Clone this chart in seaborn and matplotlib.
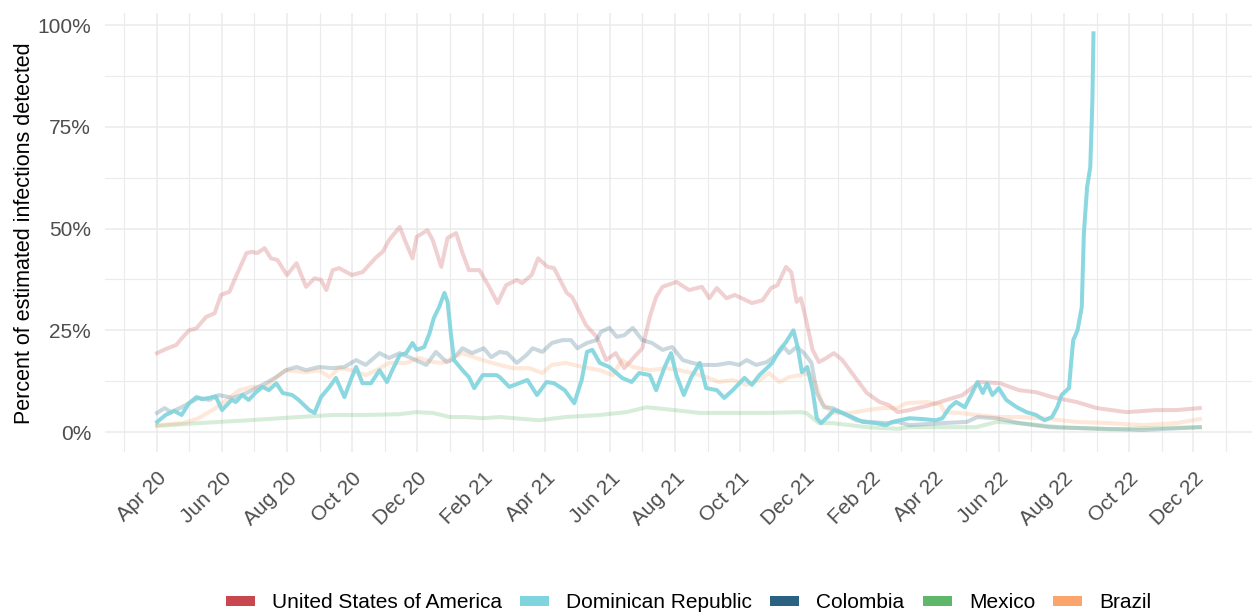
import pandas as pd
import seaborn as sns
import matplotlib.pyplot as plt
import matplotlib.dates as mdates
from matplotlib.ticker import PercentFormatter, MultipleLocator
from matplotlib.patches import Patch

# dias contados a partir de 1 abr 2020, valores em %
usa_dias = [0, 8, 18, 23, 30, 37, 46, 54, 60, 68, 74, 84, 89, 94, 101, 107, 113, 122, 131,
            140, 148, 154, 159, 165, 171, 183, 193, 206, 212, 218, 228, 234, 240, 244, 254,
            259, 267, 273, 281, 287, 293, 303, 312, 320, 328, 338, 343, 352, 358, 367, 373,
            385, 390, 403, 413, 422, 431, 439, 450, 456, 463, 469, 475, 488, 500, 512, 519,
            526, 535, 543, 559, 569, 577, 583, 591, 596, 601, 605, 610, 616, 622, 629, 636,
            644, 653, 667, 679, 688, 696, 707, 726, 742, 757, 773, 792, 810, 826, 841, 864,
            883, 911, 939, 958, 980]
usa_pct = [19.4, 20.4, 21.4, 23.0, 25.0, 25.5, 28.3, 29.2, 33.7, 34.5, 38.2, 44.0, 44.3, 44.0,
           45.2, 42.7, 42.3, 38.6, 41.5, 35.7, 37.8, 37.4, 34.9, 39.8, 40.3, 38.6, 39.3, 43.0,
           44.3, 47.2, 50.4, 46.4, 42.7, 48.0, 49.6, 47.2, 40.6, 47.7, 48.9, 44.0, 39.8, 39.8,
           35.7, 31.7, 36.1, 37.4, 36.6, 38.6, 42.7, 40.6, 40.3, 34.2, 33.2, 26.3, 23.4, 17.7,
           19.4, 15.7, 18.9, 20.6, 28.3, 33.2, 35.7, 36.9, 34.9, 35.7, 32.9, 35.4, 32.9, 33.7,
           31.7, 32.4, 35.4, 36.1, 40.6, 39.3, 32.0, 32.9, 27.5, 20.2, 17.2, 18.2, 19.4, 17.7,
           14.5, 9.6, 7.4, 6.6, 4.9, 5.4, 6.6, 7.9, 9.1, 12.3, 12.0, 10.3, 9.8, 8.6, 7.4, 5.9,
           4.9, 5.4, 5.4, 5.9]

dom_dias = [0, 8, 16, 23, 30, 37, 42, 49, 55, 61, 70, 74, 80, 86, 93, 99, 105, 112, 118, 127,
            133, 143, 148, 154, 162, 168, 176, 183, 187, 193, 201, 209, 216, 221, 228, 234, 240,
            244, 251, 256, 260, 265, 270, 273, 276, 279, 287, 293, 298, 306, 319, 322, 331, 340,
            348, 357, 366, 373, 383, 392, 399, 404, 409, 416, 425, 437, 446, 453, 463, 469, 477,
            483, 488, 495, 502, 510, 516, 526, 533, 541, 552, 559, 566, 573, 578, 585, 591, 598,
            602, 606, 611, 616, 620, 624, 630, 636, 644, 653, 663, 676, 685, 691, 707, 719, 732,
            738, 745, 751, 759, 765, 771, 776, 780, 785, 791, 798, 808, 817, 826, 834, 841, 846,
            850, 857, 859, 861, 865, 869, 871, 874, 877, 879, 880]
dom_pct = [2.5, 4.2, 5.2, 4.2, 7.1, 8.6, 8.1, 8.4, 8.8, 5.4, 7.9, 7.4, 9.1, 7.9, 9.8, 11.1, 10.3,
           12.0, 9.6, 9.1, 7.9, 5.4, 4.7, 8.6, 11.1, 13.3, 8.6, 13.5, 16.0, 12.0, 12.0, 15.2, 12.3,
           15.2, 18.9, 19.4, 21.9, 20.2, 20.9, 24.3, 28.0, 30.7, 34.2, 32.0, 24.3, 17.7, 15.2,
           13.5, 10.8, 14.0, 14.0, 13.5, 11.1, 12.0, 12.8, 9.1, 12.3, 12.0, 10.3, 7.1, 12.8, 19.7,
           20.2, 17.0, 16.0, 13.3, 12.3, 14.5, 14.0, 10.3, 16.0, 19.4, 14.0, 9.1, 13.5, 17.0, 10.8,
           10.3, 8.4, 10.3, 13.3, 11.6, 14.0, 15.7, 17.0, 20.2, 22.1, 25.0, 20.9, 14.7, 16.0, 10.3,
           3.4, 2.2, 3.7, 5.4, 4.7, 3.7, 2.5, 2.2, 1.7, 2.5, 3.4, 3.2, 2.9, 3.4, 6.1, 7.4, 6.1,
           9.1, 12.3, 9.6, 12.0, 9.1, 10.8, 7.9, 6.1, 4.9, 4.2, 2.9, 3.7, 6.1, 9.1, 10.8, 17.0,
           22.6, 25.0, 30.7, 48.9, 60.2, 65.1, 81.6, 98.0]

col_dias = [0, 7, 13, 23, 30, 39, 49, 58, 71, 84, 93, 102, 112, 121, 131, 140, 152, 165, 176,
            187, 196, 209, 218, 228, 237, 243, 253, 262, 272, 277, 287, 296, 307, 314, 322, 329,
            338, 347, 353, 362, 371, 381, 389, 395, 404, 413, 417, 425, 432, 439, 447, 456, 465,
            475, 484, 494, 503, 512, 526, 538, 547, 554, 563, 573, 582, 589, 594, 601, 608, 615,
            620, 627, 635, 644, 657, 669, 685, 696, 707, 738, 761, 771, 789, 810, 839, 864, 926,
            980]
col_pct = [4.7, 5.9, 4.9, 6.1, 7.1, 8.4, 7.9, 9.1, 8.4, 9.6, 10.8, 12.0, 13.5, 15.2, 16.0, 15.2,
           16.0, 15.7, 16.0, 17.7, 16.5, 19.4, 18.2, 19.4, 18.4, 17.7, 16.5, 19.7, 17.2, 17.7,
           20.6, 19.4, 20.6, 18.4, 19.7, 19.4, 17.0, 18.9, 20.6, 19.7, 21.9, 22.6, 22.6, 20.6,
           21.9, 22.6, 24.6, 25.6, 23.4, 23.8, 25.6, 22.6, 21.9, 20.2, 20.9, 17.7, 17.0, 16.5,
           16.5, 17.0, 16.5, 17.7, 16.5, 17.2, 18.9, 20.9, 19.4, 20.9, 19.4, 17.0, 9.6, 6.1, 5.9,
           4.7, 2.9, 2.5, 2.2, 2.5, 1.7, 2.2, 2.5, 3.7, 3.4, 2.2, 1.2, 1.0, 0.5, 1.2]

mex_dias = [0, 39, 86, 133, 165, 196, 228, 243, 259, 275, 290, 306, 322, 359, 384, 416, 441,
            460, 479, 510, 541, 573, 604, 610, 622, 635, 667, 696, 707, 770, 789, 810, 848, 895,
            942, 980]
mex_pct = [1.5, 2.2, 2.9, 3.7, 4.2, 4.2, 4.4, 4.9, 4.7, 3.7, 3.7, 3.4, 3.7, 2.9, 3.7, 4.2, 4.9,
           6.1, 5.6, 4.7, 4.7, 4.7, 4.9, 4.7, 2.2, 2.2, 1.2, 0.8, 1.2, 1.2, 2.5, 2.2, 1.2, 0.7,
           1.0, 1.2]

bra_dias = [0, 24, 39, 55, 68, 77, 89, 102, 112, 121, 140, 152, 162, 171, 183, 196, 206, 218,
            234, 246, 259, 268, 277, 287, 300, 312, 322, 334, 350, 362, 371, 384, 400, 416, 428,
            437, 447, 463, 479, 491, 503, 516, 528, 541, 554, 566, 575, 585, 594, 604, 613, 620,
            625, 635, 651, 667, 682, 696, 704, 723, 736, 740, 754, 770, 789, 810, 832, 864, 895,
            926, 958, 980]
bra_pct = [1.7, 2.2, 3.4, 5.9, 8.4, 10.3, 11.1, 11.1, 13.5, 15.2, 14.7, 15.2, 13.5, 15.7, 15.2,
           14.0, 15.2, 17.0, 17.0, 18.2, 17.2, 17.0, 18.2, 19.4, 18.2, 17.2, 16.5, 15.7, 15.7,
           14.5, 16.5, 17.0, 16.0, 15.2, 14.0, 17.7, 16.0, 15.2, 15.7, 15.2, 14.5, 13.5, 12.3,
           12.8, 11.6, 12.8, 14.5, 12.3, 13.5, 14.0, 14.5, 11.1, 7.1, 4.7, 4.7, 5.4, 5.9, 5.9,
           7.1, 7.4, 6.8, 4.9, 4.7, 4.2, 3.7, 3.7, 3.4, 2.5, 2.2, 1.7, 2.2, 3.2]

paises = ["United States of America", "Dominican Republic", "Colombia", "Mexico", "Brazil"]
cores = ["#c9474f", "#80d4dd", "#2b6282", "#5fb86a", "#fba46b"]

inicio = pd.Timestamp("2020-04-01")
series = {
    "United States of America": (usa_dias, usa_pct),
    "Dominican Republic": (dom_dias, dom_pct),
    "Colombia": (col_dias, col_pct),
    "Mexico": (mex_dias, mex_pct),
    "Brazil": (bra_dias, bra_pct),
}

plt.rcParams["font.family"] = ["Liberation Sans", "DejaVu Sans"]

fig = plt.figure(figsize=(12.52, 6.15), dpi=100)
ax = fig.add_axes([105 / 1252, 1 - 452 / 615, 1 - 105 / 1252, (452 - 13.4) / 615])

# desenhar primeiro as linhas de fundo, a Rep. Dominicana por cima
ordem = ["United States of America", "Colombia", "Mexico", "Brazil", "Dominican Republic"]
for pais in ordem:
    dias, pct = series[pais]
    df = pd.DataFrame({"data": inicio + pd.to_timedelta(dias, unit="D"), "pct": pct})
    destaque = pais == "Dominican Republic"
    sns.lineplot(data=df, x="data", y="pct", ax=ax, color=cores[paises.index(pais)],
                 alpha=0.9 if destaque else 0.25, linewidth=2.9, zorder=3 if destaque else 2)

ax.set_xlim(inicio - pd.Timedelta(days=49), inicio + pd.Timedelta(days=1029))
ax.set_ylim(-4.9, 102.9)

ax.yaxis.set_major_locator(MultipleLocator(25))
ax.yaxis.set_minor_locator(MultipleLocator(12.5))
ax.yaxis.set_major_formatter(PercentFormatter(decimals=0))
ax.xaxis.set_major_locator(mdates.MonthLocator(bymonth=[2, 4, 6, 8, 10, 12]))
ax.xaxis.set_minor_locator(mdates.MonthLocator(bymonth=[1, 3, 5, 7, 9, 11]))
ax.xaxis.set_major_formatter(mdates.DateFormatter("%b %y"))

ax.grid(which="major", color="#ebebeb", linewidth=1.1)
ax.grid(which="minor", color="#ebebeb", linewidth=0.8)
ax.set_axisbelow(True)
for s in ax.spines.values():
    s.set_visible(False)
ax.tick_params(which="both", length=0)
ax.tick_params(axis="y", labelsize=15, labelcolor="#4d4d4d", pad=10)
ax.tick_params(axis="x", labelsize=15, labelcolor="#4d4d4d", pad=12)
plt.setp(ax.get_xticklabels(), rotation=45, ha="right", rotation_mode="anchor")

ax.set_xlabel("")
ax.set_ylabel("Percent of estimated infections detected", fontsize=15.5, color="black")
ax.yaxis.set_label_coords(-0.061, 0.5)

handles = [Patch(facecolor=c, edgecolor="none") for c in cores]
fig.legend(handles, paises, loc="center", bbox_to_anchor=(0.55, 1 - 603 / 615), ncol=5,
           frameon=False, fontsize=15, handlelength=1.4, handleheight=0.35,
           handletextpad=0.82, columnspacing=0.87)

fig.savefig("out.png", dpi=100)
